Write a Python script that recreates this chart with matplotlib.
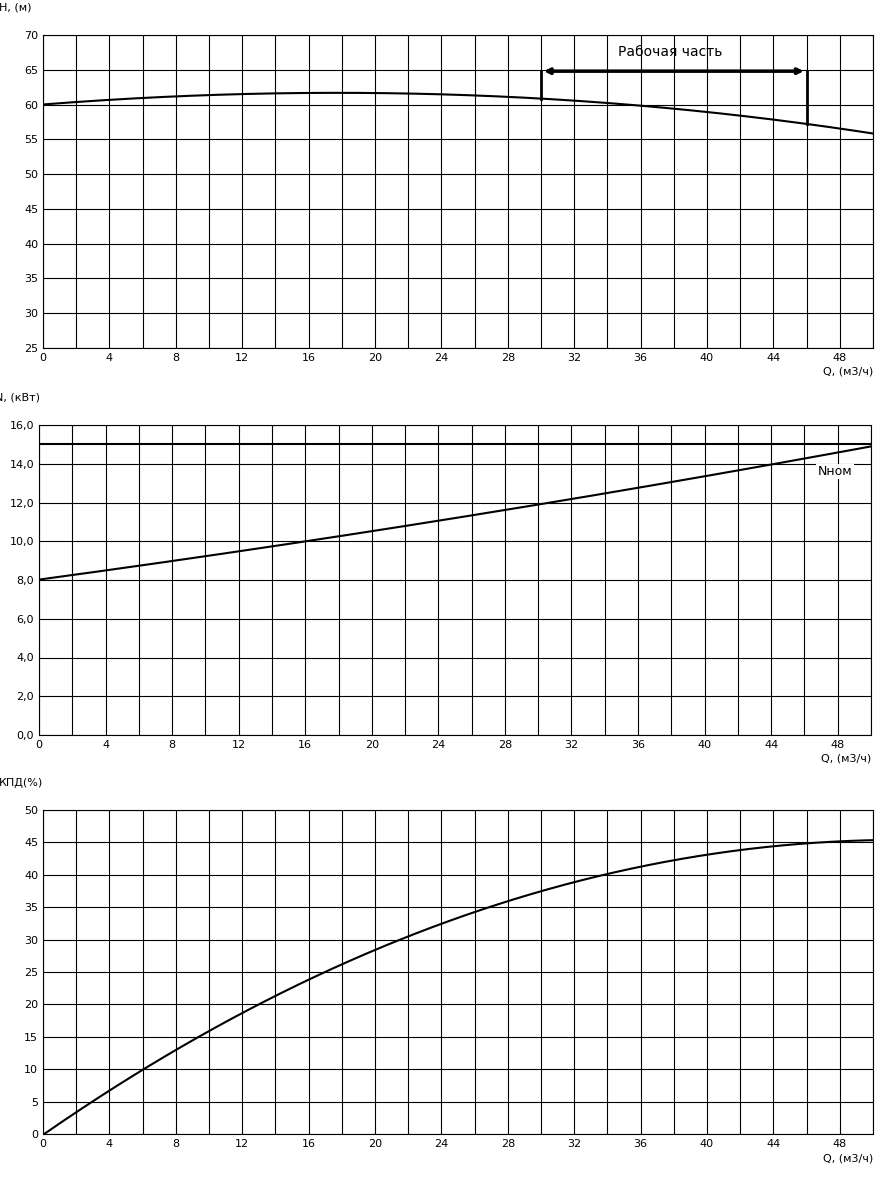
import matplotlib
matplotlib.use("Agg")
import matplotlib.pyplot as plt
import numpy as np

plt.rcParams['font.family'] = ['DejaVu Sans']
plt.rcParams['font.size'] = 8

q_h = [0, 4, 8, 12, 16, 20, 24, 28, 30, 32, 36, 40, 44, 46, 48, 50]
h = [60.0, 60.7, 61.2, 61.5, 61.6, 61.6, 61.5, 61.2, 60.9, 60.6, 59.8, 58.8, 57.8, 57.3, 56.6, 55.8]
q_n = [0, 8, 16, 24, 31, 38, 44, 50]
n = [8.0, 9.0, 10.0, 11.1, 12.0, 13.0, 14.0, 14.9]
n_nom = 15.0
q_e = [0, 4, 8, 12, 16, 20, 24, 28, 32, 36, 40, 44, 48, 50]
eff = [0, 6.5, 13.0, 18.5, 24.0, 28.5, 32.5, 35.8, 38.8, 41.3, 43.0, 44.5, 45.2, 45.3]
work_q = [30, 46]
work_h = 64.8
xticks = list(range(0, 50, 4))

W, H = 890, 1186
fig = plt.figure(figsize=(W/100, H/100), dpi=100)

def smooth(x, y, deg):
    c = np.polyfit(x, y, deg)
    xs = np.linspace(min(x), max(x), 300)
    return xs, np.polyval(c, xs), c

def ax_at(x0, x1, ytop, ybot):
    return fig.add_axes([x0/W, 1-ybot/H, (x1-x0)/W, (ybot-ytop)/H])

def style(ax, ymin, ymax, ystep, ylab, fmt=None):
    ax.set_xlim(0, 50)
    ax.set_ylim(ymin, ymax)
    ax.set_xticks(xticks)
    ax.set_xticks(np.arange(0, 51, 2), minor=True)
    yt = np.arange(ymin, ymax + 0.01, ystep)
    ax.set_yticks(yt)
    if fmt:
        ax.set_yticklabels([fmt(v) for v in yt])
    ax.grid(True, which='both', color='black', lw=0.8)
    ax.tick_params(which='both', length=0)
    ax.annotate(ylab, xy=(0, 1), xycoords='axes fraction', xytext=(-32, 16),
                textcoords='offset points', ha='left', va='bottom', fontsize=8)
    ax.text(1.0, -0.06, 'Q, (м3/ч)', transform=ax.transAxes, ha='right', va='top', fontsize=8)

ax1 = ax_at(43, 873, 35, 348)
style(ax1, 25, 70, 5, 'H, (м)')
xs, ys, c1 = smooth(q_h, h, 3)
ax1.plot(xs, ys, color='black', lw=1.5)
for q in work_q:
    hv = np.polyval(c1, q)
    ax1.plot([q, q], [hv, work_h], color='black', lw=2)
ax1.annotate('', xy=(work_q[0], work_h), xytext=(work_q[1], work_h),
             arrowprops=dict(arrowstyle='<|-|>', color='black', lw=2.5, mutation_scale=8))
ax1.text(37.8, 66.5, 'Рабочая часть', ha='center', va='bottom', fontsize=10)

ax2 = ax_at(39, 871, 425, 735)
style(ax2, 0, 16, 2, 'N, (кВт)', fmt=lambda v: f"{v:.1f}".replace('.', ','))
xs, ys, _ = smooth(q_n, n, 2)
ax2.plot(xs, ys, color='black', lw=1.5)
ax2.axhline(n_nom, color='black', lw=1.5)
ax2.text(46.8, 13.6, 'Nном', ha='left', va='center', fontsize=9,
         bbox=dict(facecolor='white', edgecolor='none', pad=1))

ax3 = ax_at(43, 873, 810, 1134)
style(ax3, 0, 50, 5, 'КПД(%)')
xs, ys, _ = smooth(q_e, eff, 3)
ax3.plot(xs, ys, color='black', lw=1.5)

fig.savefig('out.png', dpi=100, facecolor='white')
